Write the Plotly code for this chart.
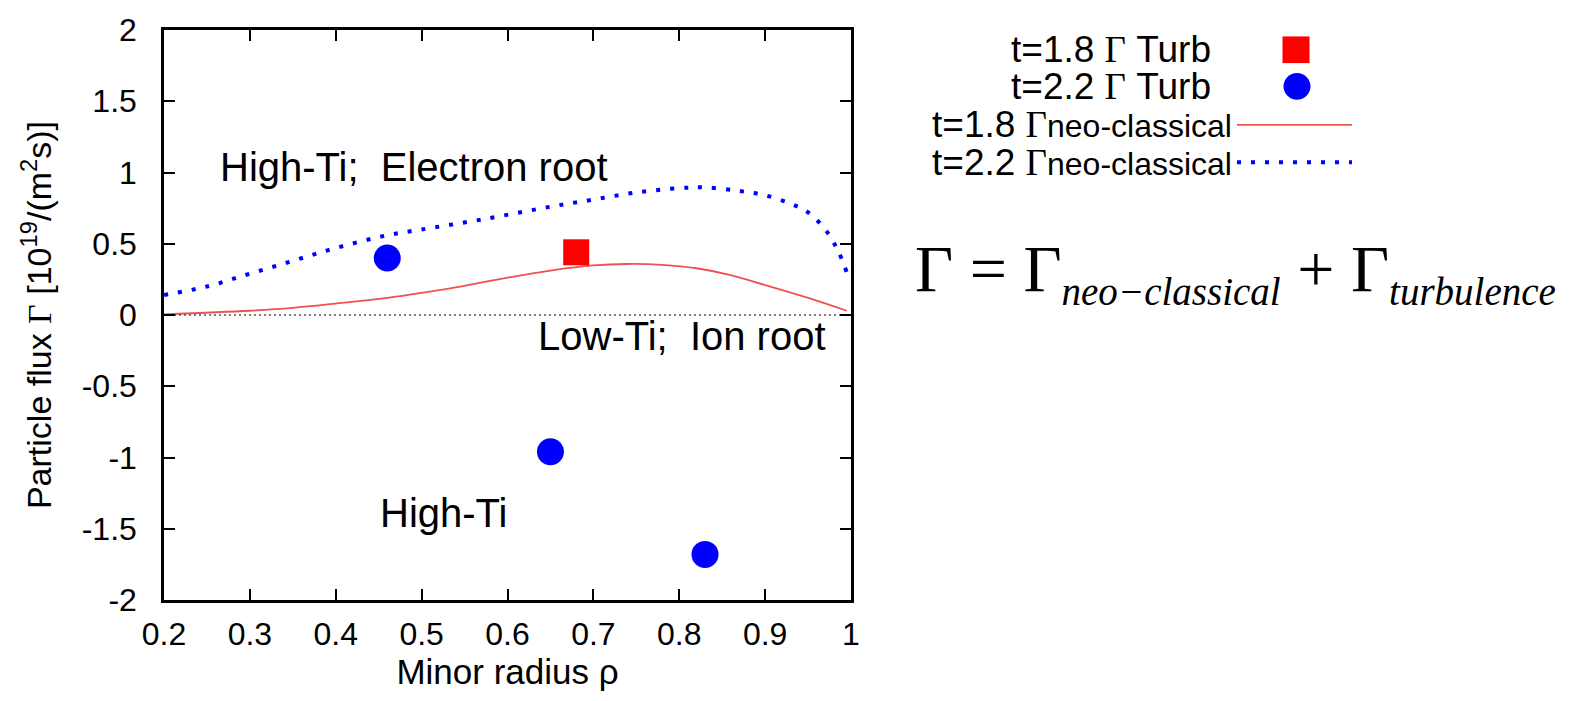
import plotly.graph_objects as go

# ---- data ----
turb18_x = [0.68]
turb18_y = [0.44]
turb22_x = [0.46, 0.65, 0.83]
turb22_y = [0.40, -0.96, -1.68]

neo18_x = [0.2, 0.3, 0.35, 0.4, 0.46, 0.5, 0.55, 0.6, 0.65, 0.7, 0.74, 0.78, 0.82, 0.86, 0.9, 0.95, 0.995]
neo18_y = [0.005, 0.03, 0.05, 0.08, 0.12, 0.155, 0.205, 0.262, 0.312, 0.348, 0.358, 0.352, 0.328, 0.28, 0.21, 0.12, 0.03]

neo22_x = [0.2, 0.25, 0.3, 0.35, 0.4, 0.46, 0.5, 0.57, 0.65, 0.7, 0.75, 0.8, 0.83, 0.87, 0.9, 0.93, 0.95, 0.97, 0.985, 0.995]
neo22_y = [0.14, 0.2, 0.29, 0.38, 0.47, 0.56, 0.60, 0.67, 0.76, 0.81, 0.86, 0.89, 0.895, 0.87, 0.84, 0.78, 0.72, 0.60, 0.45, 0.30]

x_ticks = [0.2, 0.3, 0.4, 0.5, 0.6, 0.7, 0.8, 0.9, 1.0]
x_ticktext = ["0.2", "0.3", "0.4", "0.5", "0.6", "0.7", "0.8", "0.9", "1"]
y_ticks = [2, 1.5, 1, 0.5, 0, -0.5, -1, -1.5, -2]
y_ticktext = ["2", "1.5", "1", "0.5", "0", "-0.5", "-1", "-1.5", "-2"]

SANS = "Liberation Sans, Arial, sans-serif"
SERIF = "Liberation Serif, Times New Roman, serif"
RED_LINE = "rgb(240,80,80)"

fig = go.Figure()
fig.add_trace(go.Scatter(x=neo18_x, y=neo18_y, mode="lines", line=dict(color=RED_LINE, width=1.8, shape="spline", smoothing=1.0), showlegend=False))
fig.add_trace(go.Scatter(x=neo22_x, y=neo22_y, mode="lines", line=dict(color="blue", width=4, dash="4px,10px", shape="spline"), showlegend=False))
fig.add_trace(go.Scatter(x=turb18_x, y=turb18_y, mode="markers", marker=dict(symbol="square", size=26, color="red"), showlegend=False))
fig.add_trace(go.Scatter(x=turb22_x, y=turb22_y, mode="markers", marker=dict(symbol="circle", size=27, color="blue"), showlegend=False))

# zero reference line
fig.add_shape(type="line", xref="paper", yref="y", x0=0, x1=1, y0=0, y1=0, line=dict(color="black", width=1.2, dash="2px,3px"))

axis_common = dict(showline=True, linecolor="black", linewidth=2.5, mirror="ticks", ticks="inside",
                   ticklen=11, tickwidth=2, tickcolor="black", showgrid=False, zeroline=False,
                   tickfont=dict(family=SANS, size=32, color="black"))
fig.update_xaxes(range=[0.2, 1.0], tickvals=x_ticks, ticktext=x_ticktext,
                 title=dict(text="Minor radius ρ", font=dict(family=SANS, size=35, color="black"), standoff=4),
                 ticklabelstandoff=4, **axis_common)
fig.update_yaxes(range=[-2, 2], tickvals=y_ticks, ticktext=y_ticktext,
                 title=dict(text="Particle flux <span style='font-family:Liberation Serif'>Γ</span> [10<sup>19</sup>/(m<sup>2</sup>s)]",
                            font=dict(family=SANS, size=34, color="black"), standoff=20),
                 ticklabelstandoff=18, **axis_common)

def px2paper_x(px):
    return (px - 164) / 687.0

def px2paper_y(py):
    return (600 - py) / 577.0

annos = []
annos.append(dict(x=0.263, y=1.04, xref="x", yref="y", xanchor="left", yanchor="middle", showarrow=False,
                  text="High-Ti;  Electron root", font=dict(family=SANS, size=40, color="black")))
annos.append(dict(x=0.973, y=-0.15, xref="x", yref="y", xanchor="right", yanchor="middle", showarrow=False,
                  text="Low-Ti;  Ion root", font=dict(family=SANS, size=40, color="black")))
annos.append(dict(x=0.449, y=-1.39, xref="x", yref="y", xanchor="left", yanchor="middle", showarrow=False,
                  text="High-Ti", font=dict(family=SANS, size=40, color="black")))

# legend (drawn manually: text right-aligned, samples to the right)
leg_rows_y = [43, 80, 119, 157]
annos.append(dict(x=px2paper_x(1213), y=px2paper_y(leg_rows_y[0]), xref="paper", yref="paper", xanchor="right", yanchor="middle",
                  showarrow=False, text="t=1.8 <span style='font-family:Liberation Serif'>Γ</span> Turb",
                  font=dict(family=SANS, size=37, color="black")))
annos.append(dict(x=px2paper_x(1213), y=px2paper_y(leg_rows_y[1]), xref="paper", yref="paper", xanchor="right", yanchor="middle",
                  showarrow=False, text="t=2.2 <span style='font-family:Liberation Serif'>Γ</span> Turb",
                  font=dict(family=SANS, size=37, color="black")))
annos.append(dict(x=px2paper_x(1234), y=px2paper_y(leg_rows_y[2]), xref="paper", yref="paper", xanchor="right", yanchor="middle",
                  showarrow=False, text="t=1.8 <span style='font-family:Liberation Serif'>Γ</span><span style='font-size:32px'>neo-classical</span>",
                  font=dict(family=SANS, size=37, color="black")))
annos.append(dict(x=px2paper_x(1234), y=px2paper_y(leg_rows_y[3]), xref="paper", yref="paper", xanchor="right", yanchor="middle",
                  showarrow=False, text="t=2.2 <span style='font-family:Liberation Serif'>Γ</span><span style='font-size:32px'>neo-classical</span>",
                  font=dict(family=SANS, size=37, color="black")))

hs = 13.5
fig.add_shape(type="rect", xref="paper", yref="paper",
              x0=px2paper_x(1296 - hs), x1=px2paper_x(1296 + hs), y0=px2paper_y(leg_rows_y[0] + hs), y1=px2paper_y(leg_rows_y[0] - hs),
              fillcolor="red", line=dict(width=0))
fig.add_shape(type="circle", xref="paper", yref="paper",
              x0=px2paper_x(1297 - hs), x1=px2paper_x(1297 + hs), y0=px2paper_y(leg_rows_y[1] + hs), y1=px2paper_y(leg_rows_y[1] - hs),
              fillcolor="blue", line=dict(width=0))
fig.add_shape(type="line", xref="paper", yref="paper",
              x0=px2paper_x(1237), x1=px2paper_x(1352), y0=px2paper_y(leg_rows_y[2]), y1=px2paper_y(leg_rows_y[2]),
              line=dict(color=RED_LINE, width=1.8))
fig.add_shape(type="line", xref="paper", yref="paper",
              x0=px2paper_x(1237), x1=px2paper_x(1352), y0=px2paper_y(leg_rows_y[3]), y1=px2paper_y(leg_rows_y[3]),
              line=dict(color="blue", width=4, dash="4px,10px"))

# formula
annos.append(dict(x=px2paper_x(913), y=px2paper_y(268), xref="paper", yref="paper", xanchor="left", yanchor="middle",
                  showarrow=False,
                  text="Γ = Γ<sub><span style='font-size:39px'><i>neo−classical</i></span></sub> + Γ<sub><span style='font-size:39px'><i>turbulence</i></span></sub>",
                  font=dict(family=SERIF, size=66, color="black")))

fig.update_layout(width=1569, height=701, margin=dict(l=164, r=718, t=23, b=101),
                  paper_bgcolor="white", plot_bgcolor="white", annotations=annos, showlegend=False)

fig.write_html("out.html", config={"displayModeBar": False},
               post_script="document.body.style.margin='0';document.body.style.padding='0';")
